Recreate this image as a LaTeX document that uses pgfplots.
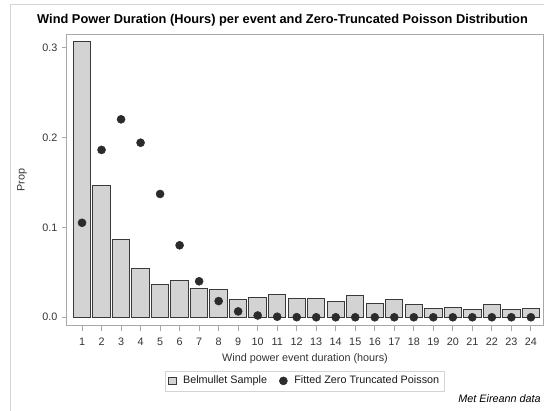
\documentclass[border=0pt]{standalone}
\usepackage{pgfplots}
\pgfplotsset{compat=1.18}
\usepackage{fontspec}
\setmainfont{Liberation Sans}

\definecolor{barfill}{HTML}{D3D3D3}
\definecolor{baredge}{HTML}{3A3A3A}
\definecolor{dotcol}{HTML}{2B2B2B}
\definecolor{framecol}{HTML}{A8A8A8}
\definecolor{textcol}{HTML}{333333}
\definecolor{outer}{HTML}{D4D4D4}

\pgfplotstableread{
k  prop
1  0.306
2  0.146
3  0.086
4  0.054
5  0.036
6  0.041
7  0.032
8  0.031
9  0.020
10 0.022
11 0.025
12 0.021
13 0.021
14 0.018
15 0.024
16 0.015
17 0.020
18 0.014
19 0.010
20 0.011
21 0.009
22 0.014
23 0.009
24 0.010
}\sample

\pgfplotstableread{
k  fit
1  0.105
2  0.186
3  0.220
4  0.194
5  0.137
6  0.080
7  0.040
8  0.018
9  0.0065
10 0.002
11 0.0006
12 0.0001
13 0
14 0
15 0
16 0
17 0
18 0
19 0
20 0
21 0
22 0
23 0
24 0
}\fitted

\begin{document}
\begin{tikzpicture}
\path[use as bounding box] (0,0) rectangle (408pt,308.25pt);
% outer frame of the graph area
\draw[outer, line width=0.75pt] (7.5pt,0) -- (7.5pt,304.5pt) -- (408pt,304.5pt);

\begin{axis}[
  at={(50.25pt,63.75pt)}, anchor=south west,
  scale only axis,
  width=357pt, height=219pt,
  xmin=0.23, xmax=24.62,
  ymin=-0.0097, ymax=0.3148,
  xtick={1,...,24},
  ytick={0,0.1,0.2,0.3},
  yticklabel style={/pgf/number format/.cd, fixed, fixed zerofill, precision=1},
  /pgf/number format/assume math mode=true,
  tick align=outside,
  major tick length=3.75pt,
  tick style={framecol, line width=0.6pt},
  axis line style={framecol, line width=0.75pt},
  xtick pos=bottom, ytick pos=left,
  ticklabel style={font=\fontsize{8.1}{9.5}\selectfont, text=textcol},
  xticklabel style={yshift=-1.5pt},
  xlabel={Wind power event duration (hours)},
  ylabel={Prop},
  label style={font=\fontsize{8.1}{9.5}\selectfont, text=textcol},
  xlabel style={at={(axis description cs:0.5,-0.112)}, anchor=center},
  ylabel style={at={(axis description cs:-0.0945,0.5)}, anchor=center, rotate=0},
  legend style={at={(axis description cs:0.5,-0.188)}, anchor=center,
    legend columns=2, draw=outer, font=\fontsize{8.1}{9.5}\selectfont,
    text=black!90, inner sep=1.8pt,
    /tikz/every odd column/.append style={column sep=3pt},
    /tikz/every even column/.append style={column sep=7pt}},
  clip=false,
]
\addplot[ybar, bar width=0.89, fill=barfill, draw=baredge, line width=0.75pt,
  legend image code/.code={\draw[fill=barfill, draw=baredge, line width=0.6pt] (1pt,-2.8pt) rectangle (6.6pt,2.8pt);}]
  table[x=k, y=prop] {\sample};
\addlegendentry{Belmullet Sample}
\addplot[only marks, mark=*, mark size=3pt, color=dotcol,
  legend image code/.code={\fill[dotcol] (3.5pt,0pt) circle (3pt);}]
  table[x=k, y=fit] {\fitted};
\addlegendentry{Fitted Zero Truncated Poisson}
\end{axis}

\node[font=\bfseries\fontsize{9.6}{11}\selectfont, anchor=center] at (211.9pt,293.25pt)
  {Wind Power Duration (Hours) per event and Zero-Truncated Poisson Distribution};
\node[font=\itshape\fontsize{8.1}{9.5}\selectfont, text=black, anchor=east, inner sep=0pt] at (405.75pt,9pt)
  {Met Eireann data};
\end{tikzpicture}
\end{document}
